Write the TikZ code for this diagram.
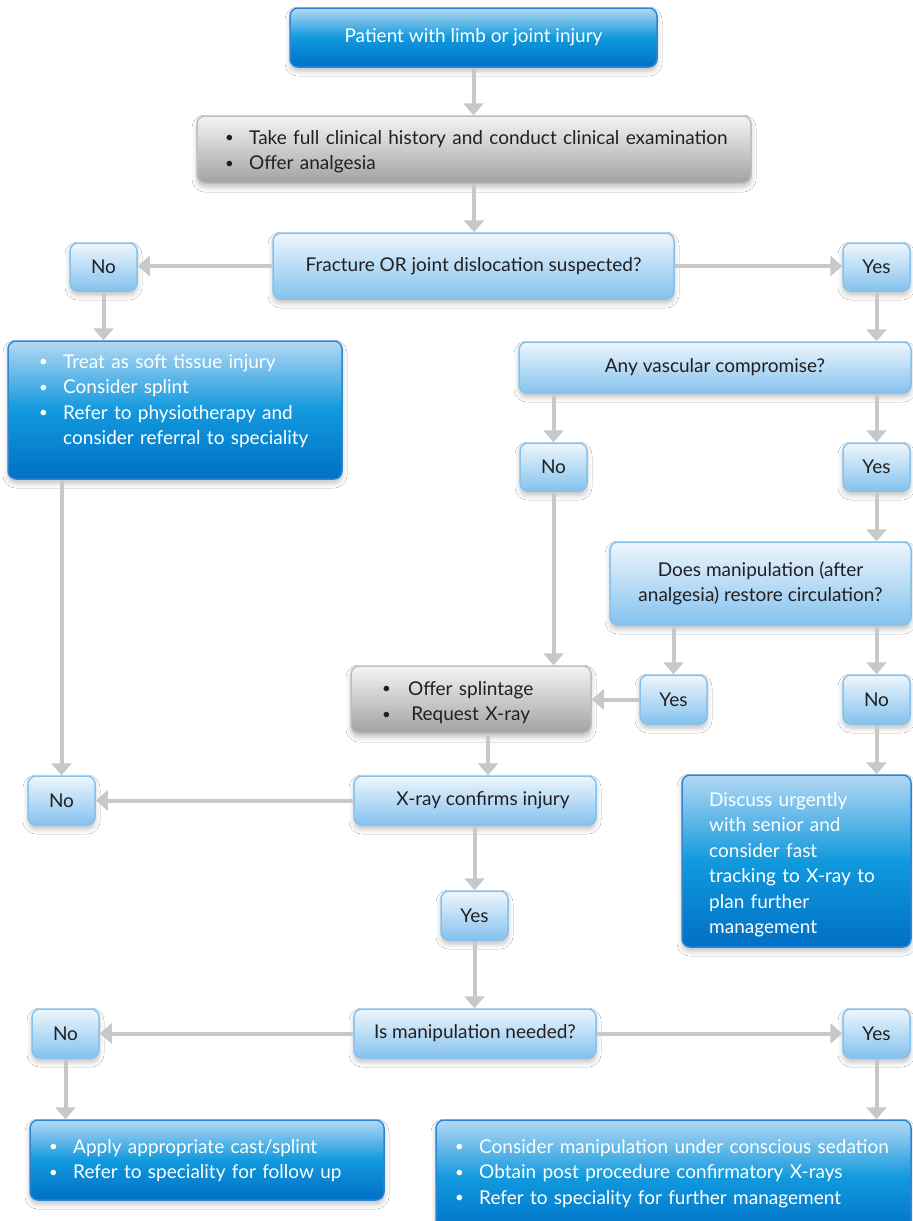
\documentclass[tikz,border=0pt]{standalone}
\usepackage{fontspec}
\setmainfont{Lato}
\usetikzlibrary{arrows.meta,shadows.blur,calc}
\definecolor{dbTop}{HTML}{B4D8F4}
\definecolor{dbMid}{HTML}{1199DD}
\definecolor{dbBot}{HTML}{0070C6}
\definecolor{dbBorder}{HTML}{2C86D6}
\definecolor{lbTop}{HTML}{EEF6FD}
\definecolor{lbBot}{HTML}{84C2EE}
\definecolor{lbBorder}{HTML}{86C1EC}
\definecolor{gTop}{HTML}{F4F4F4}
\definecolor{gBot}{HTML}{A2A2A6}
\definecolor{gBorder}{HTML}{BDBDBD}
\definecolor{arrC}{HTML}{C8C8C8}
\definecolor{txt}{HTML}{231F20}
\newcommand\fs{\fontsize{19}{25.5}\selectfont}
\newcommand\mybox[7]{\node[#1, minimum width={(#5)-(#3)}, minimum height={(#6)-(#4)}] (#2) at ({((#3)+(#5))/2},{((#4)+(#6))/2}) {#7};}
\newcommand\bulglyph{\raisebox{1.2pt}{\fontsize{15}{15}\selectfont\textbullet}}
\newcommand\bul{\makebox[24pt][l]{\bulglyph}}
\tikzset{
  basebox/.style={rounded corners=8pt, line width=1.5pt, inner sep=0pt, align=center, font=\fs,
    blur shadow={shadow xshift=0pt, shadow yshift=-4pt, shadow blur radius=5pt, shadow opacity=25}},
  dbox/.style={basebox, draw=dbBorder, top color=dbTop, bottom color=dbBot, middle color=dbMid, text=white},
  lbox/.style={basebox, draw=lbBorder, top color=lbTop, bottom color=lbBot, text=txt},
  gbox/.style={basebox, draw=gBorder, top color=gTop, bottom color=gBot, text=txt},
  tnode/.style={inner sep=0pt, align=left, font=\fs, anchor=base west},
  arr/.style={draw=arrC, line width=4pt, -{Triangle[width=20pt,length=12pt]}}
}
\begin{document}
\begin{tikzpicture}[x=1pt,y=-1pt]
\useasboundingbox (0,0) rectangle (913,1221);
\fill[white] (0,0) rectangle (913,1221);
% boxes
\mybox{dbox}{start}{290}{8}{657}{67}{Patient with limb or joint injury}
\mybox{gbox}{hist}{197}{116}{751}{183}{}
\mybox{lbox}{frac}{273}{233}{674}{299}{Fracture OR joint dislocation suspected?}
\mybox{lbox}{noA}{70}{243}{137}{291}{No}
\mybox{lbox}{yesA}{843}{243}{910}{291}{Yes}
\mybox{dbox}{soft}{8}{341}{342}{479}{}
\mybox{lbox}{vasc}{519}{342}{911}{393}{Any vascular compromise?}
\mybox{lbox}{noB}{520}{443}{587}{491}{No}
\mybox{lbox}{yesB}{843}{443}{910}{491}{Yes}
\mybox{lbox}{manip}{610}{542}{911}{625}{Does manipulation (after\\analgesia) restore circulation?}
\mybox{gbox}{splint}{351}{666}{591}{733}{}
\mybox{lbox}{yesC}{640}{675}{707}{724}{Yes}
\mybox{lbox}{noC}{843}{675}{910}{724}{No}
\mybox{lbox}{noD}{28}{776}{95}{825}{No}
\mybox{lbox}{xray}{354}{776}{596}{825}{\hspace*{16pt}X-ray confirms injury}
\mybox{dbox}{disc}{682}{775}{911}{947}{}
\mybox{lbox}{yesD}{441}{891}{508}{940}{Yes}
\mybox{lbox}{noE}{32}{1009}{99}{1058}{No}
\mybox{lbox}{need}{354}{1009}{596}{1058}{Is manipulation needed?}
\mybox{lbox}{yesE}{843}{1009}{910}{1058}{Yes}
\mybox{dbox}{cast}{30}{1120}{384}{1200}{}
\mybox{dbox}{sed}{436}{1120}{911}{1235}{}
% texts
\node[tnode, text=txt, text width=520pt] (histT) at (225,144) {\bul Take full clinical history and conduct clinical examination\\\bul Offer analgesia};
\node[tnode, text=white, text width=300pt] (softT) at (39,368) {\bul Treat as soft tissue injury\\\bul Consider splint\\\bul Refer to physiotherapy and\\\hspace*{24pt}consider referral to speciality};
\node[tnode, text=txt, text width=200pt] (splintT) at (382,695) {\makebox[26pt][l]{\bulglyph}Offer splintage\\\makebox[26pt][l]{\bulglyph}\,Request X-ray};
\node[tnode, text=white, text width=200pt] (discT) at (709,806) {Discuss urgently\\with senior and\\consider fast\\tracking to X-ray to\\plan further\\management};
\node[tnode, text=white, text width=330pt] (castT) at (49,1153) {\bul Apply appropriate cast/splint\\\bul Refer to speciality for follow up};
\node[tnode, text=white, text width=460pt] (sedT) at (455,1153) {\bul Consider manipulation under conscious sedation\\\bul Obtain post procedure confirmatory X-rays\\\bul Refer to speciality for further management};
% arrows
\draw[arr] (start.south) -- (start.south |- hist.north);
\draw[arr] (hist.south) -- (hist.south |- frac.north);
\draw[arr] (frac.west) -- (frac.west -| noA.east);
\draw[arr] (frac.east) -- (frac.east -| yesA.west);
\draw[arr] (noA.south) -- (noA.south |- soft.north);
\draw[arr] (yesA.south) -- (yesA.south |- vasc.north);
\draw[arr] (vasc.south -| noB.north) -- (noB.north);
\draw[arr] (vasc.south -| yesB.north) -- (yesB.north);
\draw[arr] (yesB.south) -- (yesB.south |- manip.north);
\draw[arr] (noB.south) -- (noB.south |- splint.north);
\draw[arr] (manip.south -| yesC.north) -- (yesC.north);
\draw[arr] (manip.south -| noC.north) -- (noC.north);
\draw[arr] (yesC.west) -- (yesC.west -| splint.east);
\draw[arr] (noC.south) -- (noC.south |- disc.north);
\draw[arr] ([xshift=17pt]splint.south) -- ([xshift=17pt]splint.south |- xray.north);
\draw[arr] (soft.south -| noD.north) -- (noD.north);
\draw[arr] (xray.west) -- (xray.west -| noD.east);
\draw[arr] (xray.south -| yesD.north) -- (yesD.north);
\draw[arr] (yesD.south) -- (yesD.south |- need.north);
\draw[arr] (need.west) -- (need.west -| noE.east);
\draw[arr] (need.east) -- (need.east -| yesE.west);
\draw[arr] (noE.south) -- (noE.south |- cast.north);
\draw[arr] (yesE.south) -- (yesE.south |- sed.north);
\end{tikzpicture}
\end{document}
